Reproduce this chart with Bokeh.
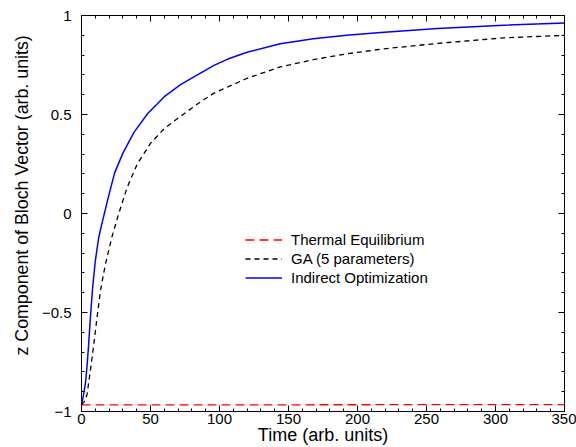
from bokeh.plotting import figure
from bokeh.models import (LinearAxis, SingleIntervalTicker, CustomJSTickFormatter,
                          Range1d, Legend, LegendItem, Title)
from bokeh.embed import file_html
from bokeh.resources import INLINE

# ---- data ----
t_thermal = [0, 175, 350]
z_thermal = [-0.967, -0.966, -0.965]

t_ga = [0, 2, 4, 6.5, 9, 11.3, 13.8, 17.4, 22, 27, 33, 40.6, 50, 60, 72, 84, 96,
        120, 144, 168, 192, 217, 258, 306, 350]
z_ga = [-0.966, -0.95, -0.915, -0.79, -0.655, -0.522, -0.387, -0.253, -0.12, 0.0,
        0.13, 0.253, 0.354, 0.429, 0.492, 0.553, 0.608, 0.683, 0.74, 0.777, 0.806,
        0.83, 0.859, 0.887, 0.90]

t_io = [0, 1.5, 3, 4, 5, 6.5, 8, 10, 12.5, 15, 19, 24, 30, 38, 48, 60, 72, 84, 96,
        106, 120, 144, 168, 192, 217, 258, 306, 350]
z_io = [-0.966, -0.915, -0.85, -0.77, -0.68, -0.52, -0.38, -0.24, -0.12, -0.045,
        0.07, 0.205, 0.305, 0.41, 0.505, 0.59, 0.652, 0.70, 0.748, 0.78, 0.814,
        0.857, 0.883, 0.90, 0.914, 0.934, 0.951, 0.962]

x_range = (0, 350)
y_range = (-1, 1)
x_major, x_minor_n = 50, 5
y_major, y_minor_n = 0.5, 5

x_title = "Time (arb. units)"
y_title = "z Component  of Bloch Vector (arb. units)"

FONT = "Liberation Sans"

p = figure(width=576, height=447, output_backend="svg", toolbar_location=None,
           x_range=Range1d(*x_range), y_range=Range1d(*y_range),
           x_axis_type=None, y_axis_type=None,
           min_border_left=81, min_border_right=12, min_border_top=15,
           min_border_bottom=36)
p.outline_line_color = "black"
p.outline_line_width = 1
p.xgrid.visible = False
p.ygrid.visible = False
p.background_fill_color = "white"
p.border_fill_color = "white"


def style_axis(ax, show_labels):
    ax.axis_line_color = "black"
    ax.major_tick_line_color = "black"
    ax.minor_tick_line_color = "black"
    ax.major_tick_in = 6
    ax.major_tick_out = 0
    ax.minor_tick_in = 3
    ax.minor_tick_out = 0
    ax.major_label_text_font = FONT
    ax.major_label_text_font_size = "15px" if show_labels else "0px"
    ax.major_label_text_color = "black" if show_labels else None
    ax.axis_label_text_font = FONT
    ax.axis_label_text_font_style = "normal"
    ax.axis_label_text_font_size = "18px"
    ax.axis_label_text_color = "black"


xb = LinearAxis(ticker=SingleIntervalTicker(interval=x_major, num_minor_ticks=x_minor_n),
                axis_label=x_title)
style_axis(xb, True)
xb.major_label_standoff = 2
xb.axis_label_standoff = -2
p.add_layout(xb, "below")

yl = LinearAxis(ticker=SingleIntervalTicker(interval=y_major, num_minor_ticks=y_minor_n),
                formatter=CustomJSTickFormatter(code="return tick.toString().replace('-', '\u2212');"))
style_axis(yl, True)
yl.major_label_standoff = 10
p.add_layout(yl, "left")

# y title as a side title so it can sit above the frame centre, as in the reference
ytitle = Title(text=y_title, align="left", offset=56, standoff=13,
               text_font=FONT, text_font_size="17.8px", text_font_style="normal",
               text_color="black")
p.add_layout(ytitle, "left")

xt = LinearAxis(ticker=SingleIntervalTicker(interval=x_major, num_minor_ticks=x_minor_n))
style_axis(xt, False)
xt.major_label_standoff = 0
p.add_layout(xt, "above")

yr = LinearAxis(ticker=SingleIntervalTicker(interval=y_major, num_minor_ticks=y_minor_n))
style_axis(yr, False)
yr.major_label_standoff = 0
p.add_layout(yr, "right")

r_th = p.line(t_thermal, z_thermal, line_color="#ff0000", line_width=1.3, line_dash="9 5")
r_ga = p.line(t_ga, z_ga, line_color="black", line_width=1.3, line_dash="5 4",
              line_join="round")
r_io = p.line(t_io, z_io, line_color="#0000ff", line_width=1.5, line_join="round")

legend = Legend(items=[LegendItem(label="Thermal Equilibrium", renderers=[r_th]),
                       LegendItem(label="GA (5 parameters)", renderers=[r_ga]),
                       LegendItem(label="Indirect Optimization", renderers=[r_io])],
                location=(164, 124))
legend.border_line_color = None
legend.background_fill_alpha = 0
legend.padding = 0
legend.margin = 0
legend.spacing = 0
legend.glyph_width = 37
legend.glyph_height = 19
legend.label_height = 19
legend.label_standoff = 9
legend.label_text_font = FONT
legend.label_text_font_size = "15px"
legend.label_text_color = "black"
p.add_layout(legend, "center")

open("out.html", "w").write(file_html(p, INLINE))
